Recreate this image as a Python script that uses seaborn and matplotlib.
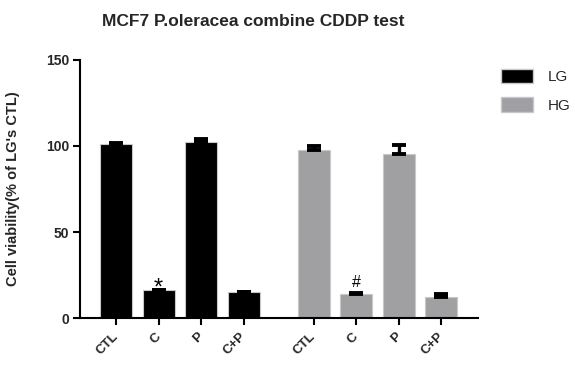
import matplotlib
matplotlib.use("Agg")
import matplotlib.pyplot as plt
import seaborn as sns
import pandas as pd
import numpy as np
from matplotlib.patches import Patch

# ---- data ----
groups = ["LG", "HG"]
treatments = ["CTL", "C", "P", "C+P"]
lg_values = [101.0, 16.0, 102.5, 15.0]
lg_errors = [1.0, 0.4, 1.8, 0.4]
hg_values = [97.5, 14.0, 95.5, 12.5]
hg_errors = [2.5, 0.8, 5.0, 1.2]
marks = {"LG": ["", "*", "", ""], "HG": ["", "#", "", ""]}
colors = {"LG": "#000000", "HG": "#a09fa4"}

sns.set_theme(style="ticks")
plt.rcParams["font.family"] = ["Liberation Sans", "DejaVu Sans"]

group_gap = 4.65
rows = []
for g, (vals, errs) in zip(groups, [(lg_values, lg_errors), (hg_values, hg_errors)]):
    gi = groups.index(g)
    for ti, (t, v, e) in enumerate(zip(treatments, vals, errs)):
        rows.append({"group": g, "treatment": t, "value": v, "err": e,
                     "pos": ti + gi * group_gap, "mark": marks[g][ti]})
df = pd.DataFrame(rows)

fig = plt.figure(figsize=(5.75, 3.67), dpi=100)
ax = fig.add_axes([80 / 575, 1 - 318 / 367, (478 - 80) / 575, (318 - 60) / 367])

sns.barplot(data=df, x="pos", y="value", hue="group", palette=colors,
            native_scale=True, dodge=False, width=0.75, errorbar=None,
            edgecolor="#c8c8c8", linewidth=0.8, ax=ax, legend=False, zorder=2)

ax.errorbar(df["pos"], df["value"], yerr=[np.zeros(len(df)), df["err"]], fmt="none",
            ecolor="black", elinewidth=2.4, capsize=5, capthick=2.8, zorder=3)

for _, r in df.iterrows():
    if r["mark"] == "*":
        ax.text(r["pos"], r["value"] - 5, r["mark"], ha="center", va="bottom",
                fontsize=17, color="black", zorder=4)
    elif r["mark"]:
        ax.text(r["pos"], r["value"] + r["err"] + 1.5, r["mark"], ha="center", va="bottom",
                fontsize=11.5, color="black", zorder=4)

ax.set_xlim(-0.85, 8.51)
ax.set_ylim(0, 150)
ax.set_yticks([0, 50, 100, 150])
ax.set_xticks(df["pos"])
ax.set_xticklabels(df["treatment"], rotation=45, ha="right", va="center",
                   rotation_mode="anchor", fontweight="bold", fontsize=9.5)
for lbl in ax.get_yticklabels():
    lbl.set_fontweight("bold")
    lbl.set_fontsize(10)
ax.tick_params(axis="both", direction="out", length=5, width=1.5, color="black", pad=3)
ax.tick_params(axis="x", pad=7)
for s in ["left", "bottom"]:
    ax.spines[s].set_linewidth(1.5)
    ax.spines[s].set_color("black")
sns.despine(ax=ax)
ax.set_xlabel("")
ax.set_ylabel("Cell viability(% of LG's CTL)", fontweight="bold", fontsize=10.5)
ax.yaxis.set_label_coords(-0.15, 0.5)

fig.text(253 / 575, 1 - 21 / 367, "MCF7 P.oleracea combine CDDP test",
         ha="center", va="center", fontsize=12.5, fontweight="bold")

handles = [Patch(facecolor=colors[g], edgecolor="#c8c8c8", label=g) for g in groups]
fig.legend(handles=handles, loc="upper left", bbox_to_anchor=(487 / 575, 1 - 55 / 367),
           frameon=False, fontsize=11, handlelength=2.1, handleheight=1.1,
           labelspacing=0.85, handletextpad=1.0)

fig.savefig("out.png", dpi=100)
